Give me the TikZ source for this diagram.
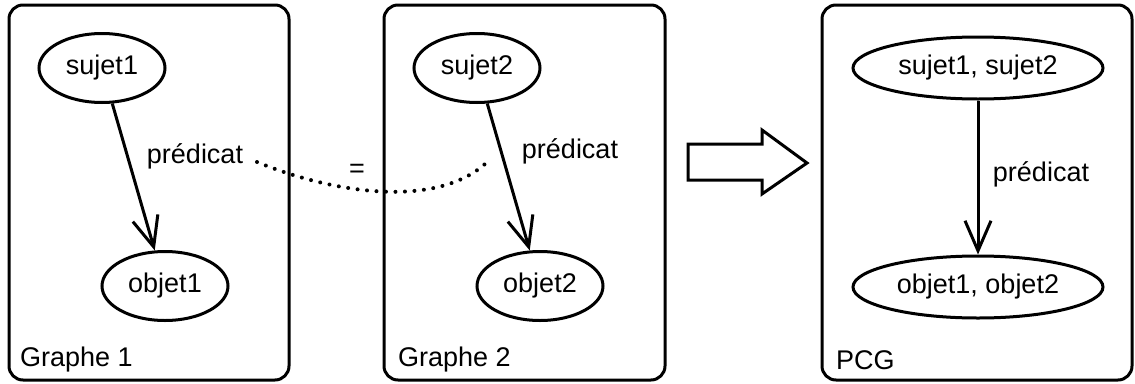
\documentclass[tikz,border=0pt]{standalone}
\usepackage{fontspec}
\setmainfont{Liberation Sans}
\usetikzlibrary{shapes.geometric,arrows.meta}
\begin{document}
\begin{tikzpicture}[x=1pt,y=-1pt,
  lw/.style={line width=3pt},
  panel/.style={lw,draw,rounded corners=14pt},
  ell/.style={lw,draw,ellipse,inner sep=0pt,minimum height=69pt,font=\fontsize{27}{31}\selectfont},
  wide/.style={ell,minimum width=250pt,minimum height=62pt},
  narrow/.style={minimum width=126pt},
  lbl/.style={font=\fontsize{27}{31}\selectfont,inner sep=0pt},
  edge/.style={lw,-{Straight Barb[length=30pt,width=26pt,line width=3pt]}},
  dots/.style={line width=4pt,line cap=round,dash pattern=on 0pt off 9.5pt}
]
\useasboundingbox (0,0) rectangle (1135,383);
% panels
\draw[panel] (9,5) rectangle (289,380);
\draw[panel] (384,5) rectangle (665,380);
\draw[panel] (822,5) rectangle (1132,380);
% panel titles
\node[lbl,anchor=west] (t1) at (20,360) {Graphe 1};
\node[lbl,anchor=west] (t2) at (398,360) {Graphe 2};
\node[lbl,anchor=west] (t3) at (836,360) {PCG};
% graph 1
\node[ell,narrow] (s1) at (102,68) {sujet1};
\node[ell,narrow] (o1) at (165,286) {objet1};
\draw[edge] (s1) -- (o1);
\node[lbl] (p1) at (195,156) {prédicat};
% graph 2
\node[ell,narrow] (s2) at (477,68) {sujet2};
\node[ell,narrow] (o2) at (540,286) {objet2};
\draw[edge] (s2) -- (o2);
\node[lbl] (p2) at (570,151) {prédicat};
% PCG
\node[wide] (s3) at (978,68) {sujet1, sujet2};
\node[wide] (o3) at (978,287) {objet1, objet2};
\draw[edge] (s3) -- (o3);
\node[lbl] (p3) at (1041,174) {prédicat};
% dotted equivalence
\coordinate (d1) at (257,162);
\coordinate (d2) at (485,164);
\draw[dots] (d1) .. controls (335,194) and (435,208) .. (d2);
\node[lbl] (eq) at (357,171) {=};
% big arrow
\draw[lw,line join=miter] (688,144) -- (762,144) -- (762,130) -- (807,163) -- (762,194) -- (762,180) -- (688,180) -- cycle;
\end{tikzpicture}
\end{document}
